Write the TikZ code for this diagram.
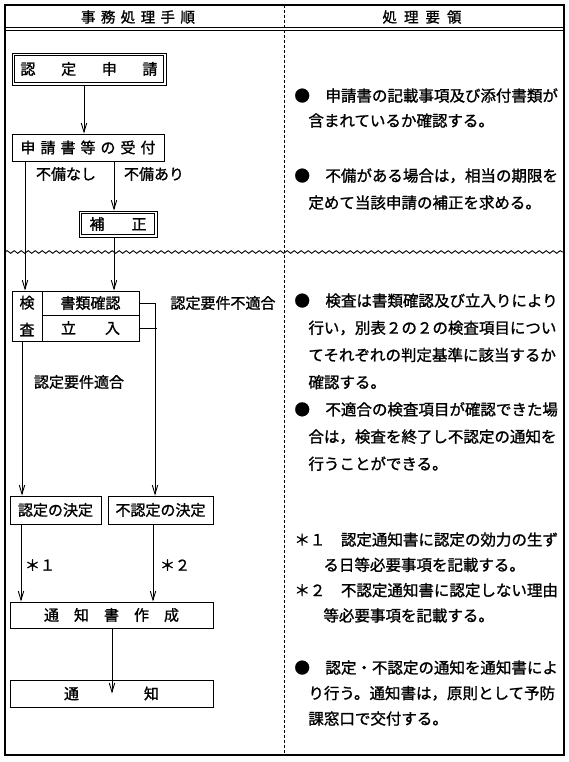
\documentclass[tikz,border=0pt]{standalone}
\usepackage{fontspec}
\newfontfamily\jp[FakeBold=1.2]{Noto Sans CJK JP}
\usetikzlibrary{arrows.meta, decorations.pathmorphing}

\begin{document}
\begin{tikzpicture}[
    x=1pt, y=-1pt, line width=0.9pt,
    box/.style={draw, inner sep=0pt, font=\jp\fontsize{15}{18}\selectfont},
    lbl/.style={inner sep=0pt, font=\jp\fontsize{15}{18}\selectfont},
    hdr/.style={inner sep=0pt, font=\jp\fontsize{14.5}{16}\selectfont},
    note/.style={anchor=north west, inner sep=0pt, align=left, font=\jp\fontsize{15.5}{#1}\selectfont},
    arr/.style={-{Straight Barb[length=9pt,width=5.5pt]}},
    wave/.style={decorate, decoration={snake, segment length=7pt, amplitude=1.3pt}},
    colsep/.style={dash pattern=on 3pt off 2pt, line width=0.8pt}
]
    \useasboundingbox (0,0) rectangle (568,762);
    \draw[line width=1.1pt] (5,5) rectangle (564,755);
    \draw (5,27) -- (564,27);
    \draw (5,30) -- (564,30);
    \draw[colsep] (284,5) -- (284,755);
    \draw[wave] (5,252) -- (564,252);

    \node[hdr] (hdrL) at (138,17) {\makebox[114pt][s]{事\hfill{}務\hfill{}処\hfill{}理\hfill{}手\hfill{}順}};
    \node[hdr] (hdrR) at (422,17) {\makebox[79pt][s]{処\hfill{}理\hfill{}要\hfill{}領}};

    \node[box, minimum width=154pt, minimum height=32pt] (shinsei) at (89,69) {\makebox[137pt][s]{認\hfill{}定\hfill{}申\hfill{}請}};
    \draw[line width=0.8pt] ([shift={(3.3,3.3)}]shinsei.north west) rectangle ([shift={(-3.3,-3.3)}]shinsei.south east);
    \node[box, minimum width=152pt, minimum height=27pt] (uketsuke) at (88,147.5) {\makebox[135pt][s]{申\hfill{}請\hfill{}書\hfill{}等\hfill{}の\hfill{}受\hfill{}付}};
    \node[lbl] (nashi) at (66,174) {不備なし};
    \node[lbl] (ari) at (154,174) {不備あり};
    \node[box, minimum width=78pt, minimum height=26pt] (hosei) at (118,224) {\makebox[57pt][s]{補\hfill{}正}};
    \draw[line width=0.8pt] ([shift={(3.3,3.3)}]hosei.north west) rectangle ([shift={(-3.3,-3.3)}]hosei.south east);
    \node[box, minimum width=30pt, minimum height=50pt, align=center, font=\jp\fontsize{15}{27}\selectfont] (kensa) at (27,316) {検\\査};
    \node[box, minimum width=97pt, minimum height=24pt] (shorui) at (90.5,303) {書類確認};
    \node[box, minimum width=97pt, minimum height=26pt] (tachiiri) at (90.5,328) {\makebox[59pt][s]{立\hfill{}入}};
    \node[lbl] (futekigo) at (223,303) {認定要件不適合};
    \node[lbl] (tekigo) at (79,382) {認定要件適合};
    \node[box, minimum width=91pt, minimum height=28pt] (nintei) at (55.5,510) {認定の決定};
    \node[box, minimum width=105pt, minimum height=28pt] (funintei) at (160.5,510) {不認定の決定};
    \node[lbl] (kome1) at (40,565) {＊１};
    \node[lbl] (kome2) at (175,565) {＊２};
    \node[box, minimum width=203pt, minimum height=26pt] (sakusei) at (111.5,615) {\makebox[135pt][s]{通\hfill{}知\hfill{}書\hfill{}作\hfill{}成}};
    \node[box, minimum width=203pt, minimum height=27pt] (tsuchi) at (111.5,693.5) {\makebox[95pt][s]{通\hfill{}知}};

    \coordinate (xa) at (84,0);
    \coordinate (xb) at (114,0);
    \coordinate (xc) at (25,0);
    \coordinate (xd) at (155,0);
    \coordinate (xe) at (22,0);
    \coordinate (xf) at (21,0);
    \coordinate (xg) at (153,0);
    \coordinate (xh) at (112,0);

    \draw[arr] (shinsei.south -| xa) -- (uketsuke.north -| xa);
    \draw[arr] (uketsuke.south -| xb) -- (hosei.north -| xb);
    \draw[arr] (hosei.south -| xb) -- (shorui.north -| xb);
    \draw[arr] (uketsuke.south -| xc) -- (kensa.north -| xc);
    \draw[arr] (shorui.east) -| (funintei.north -| xd);
    \draw (tachiiri.east) -- ++(18,0);
    \draw[arr] (kensa.south -| xe) -- (nintei.north -| xe);
    \draw[arr] (nintei.south -| xf) -- (sakusei.north -| xf);
    \draw[arr] (funintei.south -| xg) -- (sakusei.north -| xg);
    \draw[arr] (sakusei.south -| xh) -- (tsuchi.center -| xh);

    \node[note=25] (memo1) at (294,87) {\rule{0pt}{14pt}●　申請書の記載事項及び添付書類が\\\hspace*{14pt}含まれているか確認する。};
    \node[note=27] (memo2) at (294,167) {\rule{0pt}{14pt}●　不備がある場合は，相当の期限を\\\hspace*{14pt}定めて当該申請の補正を求める。};
    \node[note=27.2] (memo3) at (294,292) {\rule{0pt}{14pt}●　検査は書類確認及び立入りにより\\\hspace*{14pt}行い，別表２の２の検査項目につい\\\hspace*{14pt}てそれぞれの判定基準に該当するか\\\hspace*{14pt}確認する。\\●　不適合の検査項目が確認できた場\\\hspace*{14pt}合は，検査を終了し不認定の通知を\\\hspace*{14pt}行うことができる。};
    \node[note=25.3] (memo4) at (294,531) {\rule{0pt}{14pt}＊１　認定通知書に認定の効力の生ず\\\hspace*{29pt}る日等必要事項を記載する。\\＊２　不認定通知書に認定しない理由\\\hspace*{29pt}等必要事項を記載する。};
    \node[note=25.5] (memo5) at (294,659) {\rule{0pt}{14pt}●　認定・不認定の通知を通知書によ\\\hspace*{14pt}り行う。通知書は，原則として予防\\\hspace*{14pt}課窓口で交付する。};
\end{tikzpicture}
\end{document}
